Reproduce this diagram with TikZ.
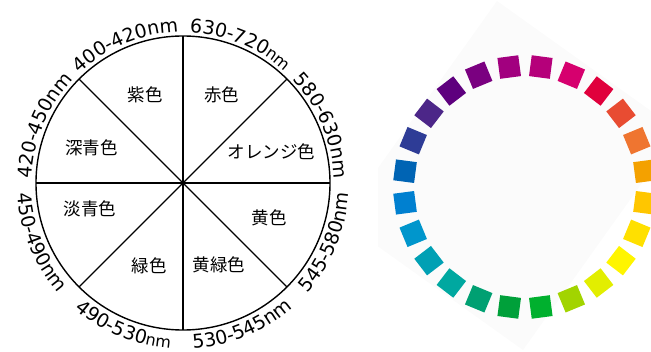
\documentclass[tikz,border=0pt]{standalone}
\usepackage{fontspec}
\newfontfamily\lblfont{DejaVu Sans}
\newfontfamily\jpfont{Noto Sans CJK JP}
\usetikzlibrary{decorations.text,calc}
\definecolor{c0}{HTML}{F4A100}
\definecolor{c1}{HTML}{EF7530}
\definecolor{c2}{HTML}{E84C32}
\definecolor{c3}{HTML}{E0003C}
\definecolor{c4}{HTML}{D6006E}
\definecolor{c5}{HTML}{B5007A}
\definecolor{c6}{HTML}{A2007F}
\definecolor{c7}{HTML}{7A0080}
\definecolor{c8}{HTML}{5E007E}
\definecolor{c9}{HTML}{4C2688}
\definecolor{c10}{HTML}{2E3C96}
\definecolor{c11}{HTML}{0064B4}
\definecolor{c12}{HTML}{0080D0}
\definecolor{c13}{HTML}{0096CC}
\definecolor{c14}{HTML}{00A0B4}
\definecolor{c15}{HTML}{00A8A0}
\definecolor{c16}{HTML}{00A072}
\definecolor{c17}{HTML}{00A03A}
\definecolor{c18}{HTML}{00B02E}
\definecolor{c19}{HTML}{A2D400}
\definecolor{c20}{HTML}{E2EE00}
\definecolor{c21}{HTML}{FFF500}
\definecolor{c22}{HTML}{FFE000}
\definecolor{c23}{HTML}{FFC600}
\definecolor{bgsq}{HTML}{FBFBFB}
\newcommand\arclabel[4]{\path[decorate,decoration={text along path,text align=center,text={|\lblfont\fontsize{19}{20}\selectfont|#4}}] ($(O)+(#1:#3)$) arc[start angle=#1,end angle=#2,radius=#3];}
\begin{document}
\begin{tikzpicture}[x=1pt,y=1pt,
  sqbox/.style={minimum size=21pt, inner sep=0pt, outer sep=0pt, draw=none},
  jp/.style={font=\jpfont\fontsize{17.5}{20}\selectfont, inner sep=0pt},
  rim/.style={line width=1.4pt}]
\useasboundingbox (0,0) rectangle (651,351);
\begin{scope}
\clip (378,0) rectangle (651,351);
\fill[bgsq] (497,350) -- (679,220) -- (523,1) -- (341,131) -- cycle;
\end{scope}
% left circle
\coordinate (O) at (183,168);
\draw[rim] (O) circle[radius=147];
\foreach \a in {0,45,...,315} {
  \coordinate (e\a) at ($(O)+(\a:147)$);
  \draw[rim] (O) -- (e\a);
}
\fill (O) circle[radius=2.6];
% sector labels
\node[jp] (murasaki) at (145,256.5) {紫色};
\node[jp] (aka) at (221.7,256.5) {赤色};
\node[jp] (shinsei) at (91.7,203) {深青色};
\node[jp] (orange) at (271.7,199.3) {オレンジ色};
\node[jp] (tansei) at (90,142) {淡青色};
\node[jp] (ki) at (269,133) {黄色};
\node[jp] (midori) at (149,85) {緑色};
\node[jp] (kimidori) at (219,86) {黄緑色};
% wavelength labels
\arclabel{135}{90}{151}{400-420nm}
\arclabel{90}{45}{151}{630-720|\lblfont\fontsize{16}{18}\selectfont|nm}
\arclabel{45}{0}{151}{580-630nm}
\arclabel{180}{135}{151}{420-450nm}
\arclabel{180}{225}{166}{450-490nm}
\arclabel{225}{270}{166}{490-530|\lblfont\fontsize{16}{18}\selectfont|nm}
\arclabel{270}{315}{166}{530-545nm}
\arclabel{315}{360}{166}{545-580nm}
% colour ring
\coordinate (R) at (525,164);
\foreach \k in {0,...,23} {
  \pgfmathsetmacro\ang{7.5+15*\k}
  \node[sqbox, fill=c\k, rotate=\ang] (s\k) at ($(R)+(\ang:121)$) {};
}
\end{tikzpicture}
\end{document}
